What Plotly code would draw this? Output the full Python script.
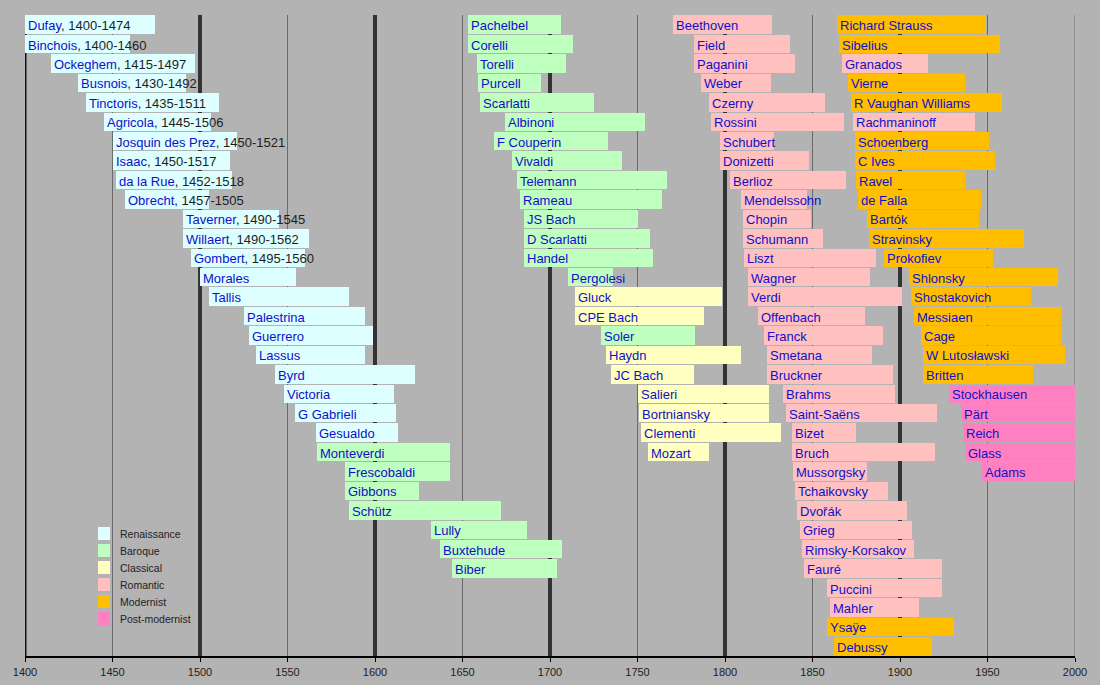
import plotly.graph_objects as go

# ---------------- data ----------------
# Column 1 (Renaissance -> early Baroque)
names1 = ["Dufay", "Binchois", "Ockeghem", "Busnois", "Tinctoris", "Agricola",
          "Josquin des Prez", "Isaac", "da la Rue", "Obrecht", "Taverner", "Willaert",
          "Gombert", "Morales", "Tallis", "Palestrina", "Guerrero", "Lassus", "Byrd",
          "Victoria", "G Gabrieli", "Gesualdo", "Monteverdi", "Frescobaldi", "Gibbons",
          "Schütz", "Lully", "Buxtehude", "Biber"]
born1 = [1400, 1400, 1415, 1430, 1435, 1445, 1450, 1450, 1452, 1457, 1490, 1490,
         1495, 1500, 1505, 1525, 1528, 1532, 1543, 1548, 1554, 1566, 1567, 1583,
         1583, 1585, 1632, 1637, 1644]
died1 = [1474, 1460, 1497, 1492, 1511, 1506, 1521, 1517, 1518, 1505, 1545, 1562,
         1560, 1555, 1585, 1594, 1599, 1594, 1623, 1611, 1612, 1613, 1643, 1643,
         1625, 1672, 1687, 1707, 1704]
era1 = ["R"] * 22 + ["B"] * 7
dated1 = [True] * 13 + [False] * 16

# Column 2 (Baroque -> Classical)
names2 = ["Pachelbel", "Corelli", "Torelli", "Purcell", "Scarlatti", "Albinoni",
          "F Couperin", "Vivaldi", "Telemann", "Rameau", "JS Bach", "D Scarlatti",
          "Handel", "Pergolesi", "Gluck", "CPE Bach", "Soler", "Haydn", "JC Bach",
          "Salieri", "Bortniansky", "Clementi", "Mozart"]
born2 = [1653, 1653, 1658, 1659, 1660, 1674, 1668, 1678, 1681, 1683, 1685, 1685,
         1685, 1710, 1714, 1714, 1729, 1732, 1735, 1750, 1751, 1752, 1756]
died2 = [1706, 1713, 1709, 1695, 1725, 1754, 1733, 1741, 1767, 1764, 1750, 1757,
         1759, 1736, 1798, 1788, 1783, 1809, 1782, 1825, 1825, 1832, 1791]
era2 = ["B"] * 14 + ["C", "C", "B", "C", "C", "C", "C", "C", "C"]

# Column 3 (Romantic)
names3 = ["Beethoven", "Field", "Paganini", "Weber", "Czerny", "Rossini", "Schubert",
          "Donizetti", "Berlioz", "Mendelssohn", "Chopin", "Schumann", "Liszt",
          "Wagner", "Verdi", "Offenbach", "Franck", "Smetana", "Bruckner", "Brahms",
          "Saint-Saëns", "Bizet", "Bruch", "Mussorgsky", "Tchaikovsky", "Dvořák",
          "Grieg", "Rimsky-Korsakov", "Fauré", "Puccini", "Mahler", "Ysaÿe", "Debussy"]
born3 = [1770, 1782, 1782, 1786, 1791, 1792, 1797, 1797, 1803, 1809, 1810, 1810,
         1811, 1813, 1813, 1819, 1822, 1824, 1824, 1833, 1835, 1838, 1838, 1839,
         1840, 1841, 1843, 1844, 1845, 1858, 1860, 1858, 1862]
died3 = [1827, 1837, 1840, 1826, 1857, 1868, 1828, 1848, 1869, 1847, 1849, 1856,
         1886, 1883, 1901, 1880, 1890, 1884, 1896, 1897, 1921, 1875, 1920, 1881,
         1893, 1904, 1907, 1908, 1924, 1924, 1911, 1931, 1918]
era3 = ["Rm"] * 31 + ["M", "M"]

# Column 4 (Modernist -> Post-modernist)
names4 = ["Richard Strauss", "Sibelius", "Granados", "Vierne", "R Vaughan Williams",
          "Rachmaninoff", "Schoenberg", "C Ives", "Ravel", "de Falla", "Bartók",
          "Stravinsky", "Prokofiev", "Shlonsky", "Shostakovich", "Messiaen", "Cage",
          "W Lutosławski", "Britten", "Stockhausen", "Pärt", "Reich", "Glass", "Adams"]
born4 = [1864, 1865, 1867, 1870, 1872, 1873, 1874, 1874, 1875, 1876, 1881, 1882,
         1891, 1905, 1906, 1908, 1912, 1913, 1913, 1928, 1935, 1936, 1937, 1947]
died4 = [1949, 1957, 1916, 1937, 1958, 1943, 1951, 1954, 1937, 1946, 1945, 1971,
         1953, 1990, 1975, 1992, 1992, 1994, 1976, 2000, 2000, 2000, 2000, 2000]
era4 = ["M", "M", "Rm", "M", "M", "Rm"] + ["M"] * 13 + ["P"] * 5

era_order = ["R", "B", "C", "Rm", "M", "P"]
era_labels = ["Renaissance", "Baroque", "Classical", "Romantic", "Modernist", "Post-modernist"]
era_colors = ["#ddffff", "#bfffbf", "#ffffc0", "#ffc0c0", "#ffbf00", "#ff80c0"]

tick_years = list(range(1400, 2001, 50))

# ---------------- styling ----------------
BG = "#b3b3b3"
NAME_COLOR = "#1010c8"
DATE_COLOR = "#1e1e1e"
FONT = "Liberation Sans, Arial, Helvetica, sans-serif"
N_ROWS = 33
W, H = 1100, 685
M_L, M_R, M_T, M_B = 25, 25, 15, 29

columns = [
    (names1, born1, died1, era1, dated1),
    (names2, born2, died2, era2, [False] * len(names2)),
    (names3, born3, died3, era3, [False] * len(names3)),
    (names4, born4, died4, era4, [False] * len(names4)),
]

# collect bars by era
by_era = {e: {"y": [], "base": [], "len": []} for e in era_order}
annotations = []
for names, born, died, eras, dated in columns:
    for row, (n, b, d, e, dt) in enumerate(zip(names, born, died, eras, dated)):
        by_era[e]["y"].append(row)
        by_era[e]["base"].append(b)
        by_era[e]["len"].append(d - b)
        if dt:
            txt = f"<span style='color:{NAME_COLOR}'>{n}</span>, {b}-{d}"
            col = DATE_COLOR
        else:
            txt = n
            col = NAME_COLOR
        annotations.append(dict(
            x=b, y=row, xref="x", yref="y", text=txt, showarrow=False,
            xanchor="left", yanchor="middle", xshift=1, yshift=-1,
            font=dict(family=FONT, size=13, color=col),
        ))

fig = go.Figure()
for e, lab, colr in zip(era_order, era_labels, era_colors):
    fig.add_trace(go.Bar(
        orientation="h", y=by_era[e]["y"], x=by_era[e]["len"], base=by_era[e]["base"],
        width=0.95, name=lab, marker=dict(color=colr, line=dict(width=0)),
        showlegend=False, hoverinfo="skip",
    ))

# vertical grid lines
shapes = []
for yr in tick_years:
    if yr == 1400:
        c, w = "#111111", 3
    elif yr % 100 == 0 and yr != 2000:
        c, w = "#333333", 4
    else:
        c, w = "#6a6a6a", 1
    shapes.append(dict(type="line", xref="x", yref="paper", x0=yr, x1=yr, y0=0, y1=1,
                       line=dict(color=c, width=w), layer="below"))

# manual legend (pixel layout converted to paper coordinates)
plot_w = W - M_L - M_R
plot_h = H - M_T - M_B


def px_x(p):
    return (p - M_L) / plot_w


def px_y(p):
    return (H - M_B - p) / plot_h


for i, (lab, colr) in enumerate(zip(era_labels, era_colors)):
    top = 527 + 17 * i
    shapes.append(dict(type="rect", xref="paper", yref="paper",
                       x0=px_x(98), x1=px_x(110), y0=px_y(top + 13), y1=px_y(top),
                       fillcolor=colr, line=dict(width=0), layer="above"))
    annotations.append(dict(
        x=px_x(118), y=px_y(top + 6.5), xref="paper", yref="paper", text=lab,
        showarrow=False, xanchor="left", yanchor="middle",
        font=dict(family=FONT, size=10.5, color="#222222"),
    ))

fig.update_layout(
    width=W, height=H,
    margin=dict(l=M_L, r=M_R, t=M_T, b=M_B, autoexpand=False),
    paper_bgcolor=BG, plot_bgcolor=BG,
    barmode="overlay", bargap=0,
    shapes=shapes, annotations=annotations,
    showlegend=False,
    xaxis=dict(range=[1400, 2000], tickvals=tick_years, ticktext=[str(t) for t in tick_years],
               showgrid=False, zeroline=False, showline=True, linecolor="#000000", linewidth=1.5,
               ticks="outside", ticklen=4, tickcolor="#000000", tickwidth=1,
               ticklabelstandoff=1, automargin=False,
               tickfont=dict(family=FONT, size=11, color="#222222"), fixedrange=True),
    yaxis=dict(range=[N_ROWS - 0.5, -0.5], visible=False, fixedrange=True, automargin=False),
)

fig.write_html(
    "out.html",
    config={"displayModeBar": False},
    post_script="document.body.style.margin='0px';document.body.style.background='" + BG + "';",
)
